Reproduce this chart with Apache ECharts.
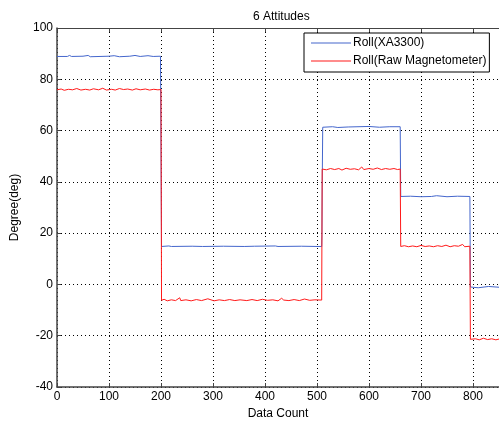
<!DOCTYPE html>
<html>
<head>
<meta charset="utf-8">
<script src="https://cdn.jsdelivr.net/npm/echarts@6/dist/echarts.min.js"></script>
<style>
  html, body { margin: 0; padding: 0; background: #fff; }
  #main { width: 499px; height: 425px; }
</style>
</head>
<body>
<div id="main"></div>
<script>
// values: [data count, degree]
const seriesNames = ["Roll(XA3300)", "Roll(Raw Magnetometer)"];
const xTicks = [0, 100, 200, 300, 400, 500, 600, 700, 800];
const yTicks = [-40, -20, 0, 20, 40, 60, 80, 100];

const rollXA = [
    [0, 88.9], [20, 88.9], [24, 89.3], [28, 88.9], [50, 89.0], [60, 89.3], [64, 88.8],
    [100, 89.0], [110, 89.2], [120, 88.8], [140, 89.0], [150, 89.3], [160, 88.9],
    [175, 89.2], [185, 88.9], [199, 89.0],
    [200, 51.8], [200.5, 34.7], [201, 14.8],
    [215, 15.0], [220, 14.8], [260, 14.9], [280, 14.8], [320, 14.9], [360, 14.8],
    [380, 14.9], [420, 15.0], [425, 14.8], [470, 14.9], [500, 14.8], [509, 14.8],
    [509.5, 19.5], [510, 37.9], [511, 61.3],
    [530, 61.5], [540, 61.2], [560, 61.4], [600, 61.6], [620, 61.3], [640, 61.5], [660, 61.5],
    [661, 34.3], [680, 34.4], [700, 34.2], [720, 34.3], [730, 34.6], [750, 34.2],
    [770, 34.4], [794, 34.3],
    [795, -1.0], [810, -1.3], [830, -0.8], [850, -1.1]
];

const rollMag = [
    [0, 75.9], [8, 76.2], [14, 75.7], [22, 76.1], [30, 75.9], [38, 76.4], [46, 75.8],
    [55, 76.1], [63, 75.8], [70, 76.3], [80, 75.9], [88, 76.5], [95, 75.8], [105, 76.1],
    [112, 75.8], [120, 76.4], [128, 76.0], [136, 76.2], [145, 75.8], [152, 76.3],
    [160, 75.9], [170, 76.2], [178, 75.8], [186, 76.1], [194, 75.9], [200, 76.0],
    [201, -6.2], [206, -5.8], [212, -6.4], [220, -6.0], [228, -6.3], [236, -5.2],
    [238, -6.3], [248, -6.0], [258, -6.4], [268, -5.9], [278, -6.3], [290, -5.6],
    [292, -6.2], [302, -6.4], [312, -6.0], [322, -6.3], [332, -5.9], [342, -6.3],
    [352, -6.0], [365, -6.3], [375, -5.9], [385, -6.3], [395, -5.8], [405, -6.2],
    [415, -6.0], [425, -6.4], [432, -5.4], [436, -6.1], [446, -6.3], [456, -5.9],
    [466, -6.3], [476, -5.7], [486, -6.2], [496, -6.0], [509, -6.1],
    [510, 45.0], [518, 44.7], [526, 45.2], [534, 44.8], [542, 45.2], [548, 44.6],
    [556, 45.3], [564, 44.9], [572, 45.1], [580, 44.7], [586, 45.8], [590, 44.8],
    [600, 45.2], [608, 44.9], [616, 45.4], [624, 44.8], [632, 45.2], [640, 44.9],
    [648, 45.2], [655, 44.8], [660, 45.0],
    [661, 14.8], [668, 15.1], [676, 14.7], [684, 15.0], [692, 14.7], [700, 15.2],
    [708, 14.8], [716, 15.0], [724, 14.7], [732, 15.1], [740, 14.8], [748, 15.3],
    [756, 14.7], [764, 15.1], [772, 14.9], [780, 15.6], [784, 14.7], [794, 14.9],
    [795, -21.4], [805, -21.2], [812, -21.6], [820, -21.0], [828, -21.5], [836, -21.2],
    [844, -21.6], [850, -21.3]
];

var chart = echarts.init(document.getElementById("main"));
var fontFam = "Liberation Sans, Arial, sans-serif";
var axisCol = "#444";
var gridLine = { show: true, lineStyle: { color: "#000", type: [1, 3], width: 1 } };

chart.setOption({
    backgroundColor: "#fff",
    animation: false,
    title: {
        text: "6 Attitudes",
        left: 248,
        top: 6,
        textStyle: { fontSize: 12, fontWeight: "normal", color: "#000", fontFamily: fontFam }
    },
    legend: {
        data: seriesNames,
        orient: "vertical",
        left: 304,
        top: 33,
        itemWidth: 40,
        itemHeight: 1,
        itemGap: 6,
        icon: "rect",
        padding: [4, 3, 5, 7],
        backgroundColor: "#fff",
        borderColor: "#000",
        borderWidth: 1,
        borderRadius: 0,
        textStyle: { fontSize: 12, color: "#000", fontFamily: fontFam, padding: [0, 0, 0, -3] }
    },
    grid: { left: 57, top: 28, width: 444, height: 363, containLabel: false },
    xAxis: [
        {
            type: "value",
            min: xTicks[0],
            max: 850,
            interval: 100,
            name: "Data Count",
            nameLocation: "middle",
            nameGap: 21,
            nameTextStyle: { fontSize: 12, color: "#000", fontFamily: fontFam },
            axisLine: { show: true, onZero: false, lineStyle: { color: axisCol, width: 1.5 } },
            axisTick: { show: true, inside: true, length: 4, lineStyle: { color: axisCol } },
            axisLabel: { color: "#000", fontSize: 12, fontFamily: fontFam, margin: 4, showMaxLabel: false },
            splitLine: gridLine
        },
        {
            type: "value",
            position: "top",
            min: xTicks[0],
            max: 850,
            interval: 100,
            axisLine: { show: true, onZero: false, lineStyle: { color: axisCol, width: 1 } },
            axisTick: { show: true, inside: true, length: 4, lineStyle: { color: axisCol } },
            axisLabel: { show: false },
            splitLine: { show: false }
        }
    ],
    yAxis: {
        type: "value",
        min: yTicks[0],
        max: yTicks[yTicks.length - 1],
        interval: 20,
        name: "Degree(deg)",
        nameLocation: "middle",
        nameGap: 36,
        nameTextStyle: { fontSize: 12, color: "#000", fontFamily: fontFam },
        axisLine: { show: true, onZero: false, lineStyle: { color: axisCol, width: 1.5 } },
        axisTick: { show: true, inside: true, length: 4, lineStyle: { color: axisCol } },
        axisLabel: { color: "#000", fontSize: 12, fontFamily: fontFam, margin: 4 },
        splitLine: gridLine
    },
    series: [
        {
            name: seriesNames[0],
            type: "line",
            data: rollXA,
            showSymbol: false,
            color: "#4466cc",
            lineStyle: { width: 1, color: "#4466cc" }
        },
        {
            name: seriesNames[1],
            type: "line",
            data: rollMag,
            showSymbol: false,
            color: "#ff1a1a",
            lineStyle: { width: 1, color: "#ff1a1a" }
        }
    ]
});
</script>
</body>
</html>
